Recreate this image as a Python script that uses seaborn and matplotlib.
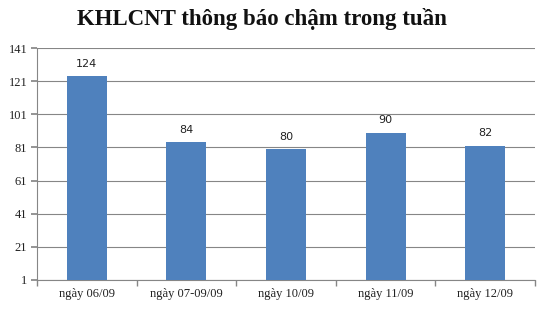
import matplotlib
matplotlib.use("Agg")
import matplotlib.pyplot as plt
import seaborn as sns
import pandas as pd
import numpy as np

categories = ["ngày 06/09", "ngày 07-09/09", "ngày 10/09", "ngày 11/09", "ngày 12/09"]
values = [124, 84, 80, 90, 82]
yticks = [1, 21, 41, 61, 81, 101, 121, 141]

sns.set_theme(style="white")
plt.rcParams['font.family'] = ['Liberation Serif', 'DejaVu Serif']

df = pd.DataFrame({"cat": categories, "val": values})

fig = plt.figure(figsize=(5.41, 3.10), dpi=100)
ax = fig.add_axes([0.0684, 0.0968, 0.9206, 0.7482])

sns.barplot(data=df, x="cat", y="val", color="#4F81BD", saturation=1, width=0.4,
            ax=ax, zorder=3, linewidth=0, edgecolor="none")

ax.set_ylim(1, 141)
ax.set_xlim(-0.5, len(categories) - 0.5)
ax.set_yticks(yticks)
ax.set_yticklabels([str(t) for t in yticks], fontsize=9, color="#222222")
ax.set_xticks(range(len(categories)))
ax.set_xticklabels(categories, fontsize=9, color="#222222")
ax.set_xlabel("")
ax.set_ylabel("")

ax.grid(axis="y", color="#868686", linewidth=0.8, zorder=0)
ax.set_axisbelow(True)

for s in ["top", "right"]:
    ax.spines[s].set_visible(False)
for s in ["left", "bottom"]:
    ax.spines[s].set_color("#868686")
    ax.spines[s].set_linewidth(0.8)

ax.tick_params(axis="y", which="major", length=4, color="#868686", left=True, pad=3)
ax.tick_params(axis="x", which="major", length=0, pad=6)
ax.set_xticks(np.arange(-0.5, len(categories), 1.0), minor=True)
ax.tick_params(axis="x", which="minor", length=4, color="#868686", bottom=True)

for i, v in enumerate(values):
    ax.text(i, v + 4.5, str(v), ha="center", va="bottom", fontsize=8,
            family=["DejaVu Sans"], color="#222222")

fig.text(0.485, 0.94, "KHLCNT thông báo chậm trong tuần", ha="center", va="center",
         fontsize=16.5, fontweight="bold", color="#111111")

fig.savefig("out.png", dpi=100, facecolor="white")
